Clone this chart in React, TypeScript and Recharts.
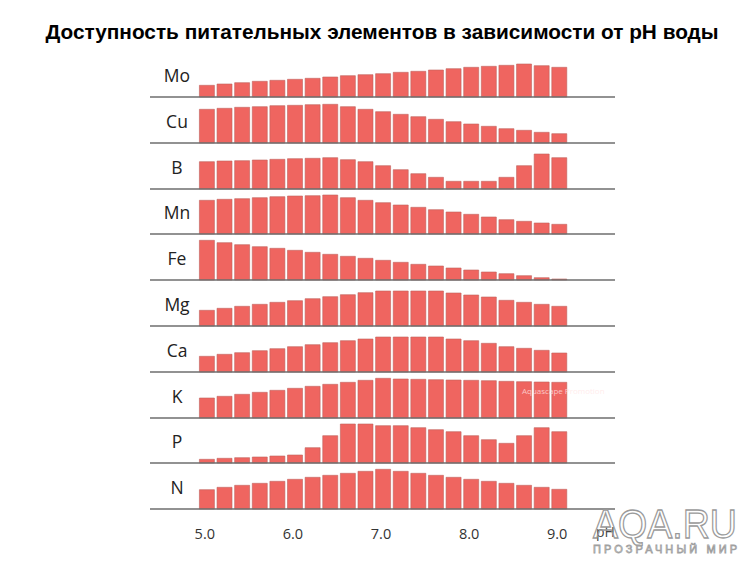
import React from 'react';
import { BarChart, Bar, XAxis, YAxis, ReferenceLine } from 'recharts';

// pH steps along the bottom, 5.0 .. 9.0 by 0.2
const PH = [
  '5.0', '5.2', '5.4', '5.6', '5.8', '6.0', '6.2', '6.4', '6.6', '6.8', '7.0',
  '7.2', '7.4', '7.6', '7.8', '8.0', '8.2', '8.4', '8.6', '8.8', '9.0',
];

const ELEMENTS = ['Mo', 'Cu', 'B', 'Mn', 'Fe', 'Mg', 'Ca', 'K', 'P', 'N'];

// relative availability (bar height) per element
const MO = [11.7, 13, 14.3, 15.7, 16.7, 17.7, 18.7, 20, 21.3, 22.3, 23.3, 24.7, 25.7, 27, 28.3, 29.7, 30.7, 31.7, 33, 31.3, 29.7];
const CU = [33.7, 34.7, 35.7, 36.3, 37.3, 37.7, 38.3, 38.7, 36.3, 33.7, 31.3, 28.7, 26.3, 23.7, 21.3, 19, 16.7, 14.3, 12.7, 10.7, 9.3];
const B = [27.3, 28, 28.3, 29, 29.7, 30.3, 30.7, 31.3, 29.3, 27.3, 23.3, 19.3, 15.3, 11.7, 7.7, 7.7, 7.7, 11.7, 23.3, 35, 31.3];
const MN = [33.7, 34.7, 35.3, 36.3, 37.3, 38, 38.3, 39, 36.3, 33.7, 31.3, 29, 26.7, 24.3, 22, 19.7, 17, 14.3, 12.7, 11, 9.7];
const FE = [39.7, 37.3, 35.3, 33.3, 31.7, 29.7, 27.7, 25.7, 23.7, 21.7, 19.7, 17.7, 15.7, 14, 12, 10, 8, 6.3, 4.3, 2.3, 1];
const MG = [15.7, 17.7, 19.7, 21.7, 23.7, 25.3, 27.3, 29.3, 31.3, 33.3, 35, 35, 35, 35, 33, 31, 29, 25.7, 23.7, 21.7, 19.7];
const CA = [15.7, 17.7, 19.3, 21.3, 23.3, 25.3, 27.3, 29.3, 31.3, 33, 35, 35, 35, 35, 33, 31.3, 28.7, 25.3, 23.7, 21.7, 19];
const K = [20, 21.7, 23.7, 25.7, 27.7, 29.7, 31.7, 33.7, 35.7, 37.7, 39.7, 39, 38.7, 38.3, 38, 37.7, 37.3, 36.7, 36.3, 36, 35.7];
const P = [3.7, 4.7, 5.3, 6, 7, 8, 15.3, 27.3, 39, 39, 37.3, 37.3, 35.3, 33.3, 31.3, 27.3, 23.3, 19.7, 27.3, 35.3, 31.3];
const N = [19.3, 21.7, 23.7, 25.7, 27.7, 29.7, 31.7, 33.7, 35.7, 37.7, 39.7, 37.7, 35.7, 33.7, 31.7, 29.7, 27.7, 25.7, 23.7, 21.7, 19.7];

const SERIES = [MO, CU, B, MN, FE, MG, CA, K, P, N];

const FIRST_BASE = 97;
const STEP = 45.8;
const ROW_H = 46;
const AXIS_H = 36;

function Row({ name, values, index, last }: { name: string; values: number[]; index: number; last: boolean }) {
  const data = PH.map((ph, i) => ({ ph, v: values[i] }));
  const base = FIRST_BASE + index * STEP;
  return (
    <>
      <div style={{
        position: 'absolute', left: 147, width: 60, top: base - 22 - 12, height: 24,
        textAlign: 'center', fontSize: 17.5, lineHeight: '24px', color: '#222',
        fontFamily: '"Open Sans", sans-serif',
      }}>{name}</div>
      <div style={{ position: 'absolute', left: 150, top: base - ROW_H }}>
        <BarChart
          width={465}
          height={ROW_H + 2 + (last ? AXIS_H : 0)}
          data={data}
          margin={{ top: 0, right: 0, bottom: 2, left: 0 }}
          barCategoryGap="8%"
        >
          <XAxis
            dataKey="ph"
            hide={!last}
            height={AXIS_H}
            padding={{ left: 48, right: 47 }}
            axisLine={false}
            tickLine={false}
            interval={4}
            tickMargin={14}
            tick={{ fontSize: 14.5, fill: '#333', dx: -2, fontFamily: '"Open Sans", sans-serif' }}
          />
          <YAxis hide domain={[0, 46]} />
          <ReferenceLine y={0} stroke="#6e6e6e" strokeWidth={1.5} />
          <Bar dataKey="v" fill="#ef6560" stroke="#c0615c" strokeWidth={0.6} isAnimationActive={false} />
        </BarChart>
      </div>
    </>
  );
}

export default function App() {
  return (
    <div style={{
      position: 'absolute', left: 0, top: 0, width: 750, height: 563,
      background: '#fff', overflow: 'hidden',
    }}>
      <div style={{
        position: 'absolute', left: 0, width: 764, top: 20, textAlign: 'center',
        fontFamily: '"Liberation Sans", Arial, sans-serif', fontWeight: 'bold',
        fontSize: 20.8, color: '#000', whiteSpace: 'nowrap',
      }}>
        Доступность питательных элементов в зависимости от pH воды
      </div>

      {ELEMENTS.map((el, i) => (
        <Row key={el} name={el} values={SERIES[i]} index={i} last={i === ELEMENTS.length - 1} />
      ))}

      <div style={{
        position: 'absolute', left: 596, top: 522, fontSize: 14, color: '#444',
        fontFamily: '"Open Sans", sans-serif',
      }}>pH</div>

      <div style={{
        position: 'absolute', left: 522, top: 385, fontSize: 8, color: 'rgba(255,230,230,0.75)',
        fontFamily: '"Open Sans", sans-serif', whiteSpace: 'nowrap',
      }}>Aquascape Promotion</div>

      <svg width={170} height={63} style={{ position: 'absolute', left: 580, top: 500 }}>
        <text x={13} y={38} fontSize={41} textLength={144} lengthAdjust="spacingAndGlyphs"
          fontFamily='"Liberation Sans", Arial, sans-serif' fill="none" stroke="#9a9a9a" strokeWidth={1.3}>
          AQA.RU
        </text>
        <text x={13} y={53} fontSize={11} textLength={144} lengthAdjust="spacing"
          fontFamily='"Liberation Sans", Arial, sans-serif' fill="none" stroke="#a0a0a0" strokeWidth={0.8}>
          ПРОЗРАЧНЫЙ МИР
        </text>
      </svg>
    </div>
  );
}
